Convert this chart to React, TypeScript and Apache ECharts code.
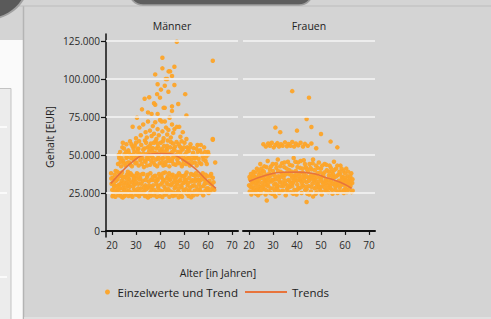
import React, { useEffect, useRef } from 'react';
import * as echarts from 'echarts';

// ---------- data (salaries in thousand EUR) ----------
const panelTitles = ['Männer', 'Frauen'];
const xTicks = [20, 30, 40, 50, 60, 70];
const yTicks = [0, 25, 50, 75, 100, 125];
const gridValues = [25, 50, 75, 100, 125];
const legendNames = ['Einzelwerte und Trend', 'Trends'];

const menLow: number[][] = [
  [19.6,38],[19.8,31],[20.1,27],[20.3,35],[20.5,24],[20.9,29],[21.2,37],[21.4,22.5],[21.7,33],[22.0,26],
  [22.2,39],[22.5,30],[22.8,23.5],[23.1,36],[23.3,28],[23.7,25],[24.0,33],[24.2,38.5],[24.5,22],[24.8,30],
  [25.1,27],[25.4,35.5],[25.6,24],[26.0,31.5],[26.2,37],[26.5,26],[26.9,23],[27.1,34],[27.4,29],[27.7,38],
  [28.0,25],[28.3,32],[28.5,22.5],[28.9,36],[29.2,27.5],[29.5,30.5],[29.8,24],[30.1,34.5],[30.4,38],[30.7,26],
  [31.0,31],[31.3,22.8],[31.7,35],[32.0,28],[32.4,24.5],[32.8,33],[33.1,37.5],[33.5,26.5],[33.9,30],[34.2,23],
  [34.6,35.5],[35.0,28.5],[35.3,32.5],[35.7,24.5],[36.0,38],[36.4,27],[36.8,33.5],[37.1,30],[37.5,23.5],[37.8,36],
  [38.2,25.5],[38.5,31],[38.9,34],[39.3,28],[39.6,37.5],[40.0,23],[40.3,30.5],[40.7,35],[41.0,26],[41.4,33],
  [41.8,29],[42.1,38.5],[42.5,24],[42.8,31.5],[43.2,36],[43.5,27.5],[43.9,22.5],[44.3,34],[44.6,30],[45.0,25],
  [45.3,37],[45.7,32],[46.1,28],[46.4,23.5],[46.8,35.5],[47.1,30.5],[47.5,26],[47.9,38],[48.2,33],[48.6,24],
  [49.0,29],[49.3,36],[49.7,31.5],[50.0,25.5],[50.4,34],[50.8,27.5],[51.1,38.5],[51.5,30],[51.9,23],[52.2,35],
  [52.6,28.5],[53.0,32.5],[53.3,25],[53.7,37],[54.1,30],[54.4,26.5],[54.8,34],[55.2,29],[55.5,24],[55.9,36.5],
  [56.3,31],[56.6,27],[57.0,33.5],[57.4,25.5],[57.8,38],[58.1,29.5],[58.5,34.5],[58.9,26.5],[59.3,31.5],[59.7,36],
  [60.1,28],[60.6,33],[61.0,26],[61.5,30.5],[62.0,35],
  [21,30],[23,30.2],[26.7,29.8],[29,33.5],[31.5,33.8],[34,33.5],[36.2,33.6],[39,33.4],[41.5,33.5],[44,33.6],
  [46.5,33.4],[48.5,33.5],[51,33.6],[53.5,33.4],[56,33.5],[58.7,33.5],[22,25.3],[25,25.5],[28,25.2],[33,25.4],
  [36,25.3],[38.8,25.4],[43,25.5],[45.5,25.3],[48,25.4],[52,25.5],[56.8,25.3],[60,25.4],[24,36.3],[27,36.2],
  [30,36.4],[38,36.3],[40.5,36.2],[44.8,36.5],[47,36.3],[50,36.2],[54.5,36.4],[57.5,36.3],[61,36.2],[35,22],
  [41,22.3],[47.8,22.1],[53,22.2]
];

const menLowExtra: number[][] = [
  [19.7,34.5],[20.2,22.8],[20.7,31.5],[21.1,26.5],[21.5,39.5],[21.9,29],[22.3,34],[22.6,27],[23.0,38],[23.5,31],
  [23.9,22.7],[24.3,28],[24.6,35],[25.0,32],[25.3,23],[25.8,28.5],[26.3,34],[26.6,39],[27.0,26.5],[27.3,31.5],
  [27.8,23.5],[28.2,37],[28.7,29.5],[29.1,34.5],[29.6,26],[30.0,32],[30.5,23.8],[30.9,28],[31.4,37],[31.9,25.5],
  [32.3,31],[32.7,37.5],[33.3,28.8],[33.7,23],[34.4,27.5],[34.9,37],[35.5,30],[36.1,23],[36.6,29],[37.0,35.5],
  [37.6,27],[38.0,33],[38.7,22.5],[39.1,29.5],[39.8,35.5],[40.2,26.5],[40.9,31.5],[41.3,38],[41.9,24],[42.3,27.5],
  [42.9,34.5],[43.4,30.5],[43.8,38],[44.4,26],[44.9,31],[45.4,23],[45.9,35],[46.3,29],[46.9,25],[47.3,32],
  [47.8,28],[48.4,36.5],[48.8,30],[49.2,22.5],[49.8,27],[50.2,32],[50.7,37],[51.2,24.5],[51.7,31.5],[52.3,26.5],
  [52.9,37.5],[53.5,29.5],[54.0,23.5],[54.6,32.5],[55.0,38],[55.7,27],[56.1,33.5],[56.9,29],[57.5,35],[58.0,23.5],
  [58.6,31],[59.0,37],[59.5,28],[60.3,25],[60.9,31],[61.3,37.5],[61.8,28],[62.3,32],[62.6,27]
];

const menMid: number[][] = [
  [22.5,44],[23,48],[23.4,52],[23.8,42.5],[24.3,55],[24.7,46],[25.2,50.5],[25.6,43],[26,57],[26.3,48.5],
  [26.8,53],[27.2,45],[27.5,59],[27.9,50],[28.3,42.5],[28.6,55.5],[29,47],[29.3,52],[29.7,44.5],[30,58],
  [30.4,49.5],[30.8,54],[31.1,43],[31.5,51],[31.8,46.5],[32.2,56.5],[32.6,48],[33,53.5],[33.3,42],[33.7,59.5],
  [34,45.5],[34.4,50.5],[34.8,55],[35.1,47.5],[35.5,52.5],[35.9,43.5],[36.2,57.5],[36.6,49],[37,54.5],[37.3,45],
  [37.7,51.5],[38.1,59],[38.4,47],[38.8,42.5],[39.2,55.5],[39.5,50],[39.9,44.5],[40.3,58],[40.6,52.5],[41,47.5],
  [41.4,43],[41.7,56],[42.1,50.5],[42.5,45.5],[42.8,53.5],[43.2,59.5],[43.6,48],[43.9,42.5],[44.3,55],[44.7,51],
  [45,46],[45.4,57.5],[45.8,49],[46.1,53],[46.5,43.5],[46.9,58.5],[47.2,47],[47.6,52],[48,44.5],[48.3,55.5],
  [48.7,49.5],[49.1,42.5],[49.4,53.5],[49.8,46.5],[50.2,58],[50.5,50.5],[50.9,44],[51.3,55],[51.6,48],[52,52.5],
  [52.4,43],[52.7,57],[53.1,47],[53.5,50],[54,54.5],[54.5,45],[55,49.5],[55.6,56.5],[56.1,47.5],[56.7,53],
  [57.2,44],[57.8,49],[58.4,55],[59,46],
  [24,47.8],[26,48.1],[28,47.9],[30,48.2],[32,47.8],[34.5,48],[37,48.2],[39,47.9],[41.2,48],[43,48.1],
  [45.2,47.8],[47.5,48.1],[50,47.9],[52.3,48],[54.8,48.2],[25,54.2],[29,54],[31,54.1],[33.5,54.3],[36,54],
  [38.5,54.2],[40.8,54.1],[42.8,54],[45.8,54.2],[48.9,54],[51.8,54.1],[55.2,54],
  [60,52],[60.2,50.5],[57,56.6],[63,45],[62,60],[59.5,44]
];

const menMidExtra: number[][] = [
  [22.8,50],[23.6,45.5],[24.5,58],[25,44.5],[25.9,52],[26.6,45],[27,51.5],[27.7,43.5],[28.1,57],[28.8,50],
  [29.5,56],[30.2,45],[30.6,52],[31.3,59],[31.9,50],[32.4,44],[33.1,51],[33.6,46],[34.2,58],[34.6,43],
  [35.3,50],[35.7,56],[36.4,46],[36.9,52],[37.5,58],[37.9,43.5],[38.6,51],[39,57.5],[39.7,47.5],[40,53],
  [40.9,45],[41.2,59],[41.9,52],[42.3,43.5],[43,56],[43.4,51],[44,46],[44.5,58.5],[45.1,52],[45.6,44],
  [46.3,55.5],[46.7,50],[47.4,45],[47.8,57],[48.5,51.5],[49,59],[49.6,44],[50,55],[50.7,47],[51.1,52],
  [51.9,45],[52.5,55],[53.3,44.5],[53.8,51.5],[54.3,48],[55.3,43],[55.8,52],[56.4,45],[57.5,51],[58.1,47],
  [58.8,52],[59.3,49]
];

const menHigh: number[][] = [
  [28.6,68.6],[31.4,68],[30,61],[30.4,74.5],[32,63],[33,70],[34,65],[34.5,61.5],[35,72],[35.8,66],
  [36.5,62.5],[37,69],[37.5,64],[38,71.5],[38.5,60.5],[39,67],[39.5,63],[40,73],[40.7,72],[41,65.5],
  [41.5,61],[42,72],[42.5,68],[43,63.5],[43.5,66.5],[44,74.5],[44.5,61.5],[45,70],[45.5,64.5],[46,67],
  [47,68.5],[48,68.5],[48.5,62],[49.5,65],[51,60.5],[36.5,77],[39,77],[35,78],[45,79],[42,81],
  [32.5,80],[47.6,83.5],[45,82],[41.5,81],[38,83],[37.5,84],[33.6,87],[35.5,88],[40,87.7],[38.8,90],
  [43.5,91.6],[50.5,90],[51,76],[40.4,93],[42,95.5],[46,96],[39,96.5],[42.4,100],[43,100],[45,102],
  [38,103],[43.6,105],[44.2,105],[41,107],[46,108],[41,114],[47,124.5],[62,112],[62,60.5]
];

const womenBand: number[][] = [
  [20,30],[20.3,26],[20.5,34],[20.8,37.5],[21,24],[21.3,28.5],[21.6,32],[21.9,39],[22.2,25.5],[22.4,35.5],
  [22.7,30],[23,27],[23.3,41],[23.5,33],[23.8,23.5],[24.1,37],[24.4,29],[24.7,44],[25,25],[25.2,35],
  [25.5,31.5],[25.8,39.5],[26.1,27.5],[26.4,42.5],[26.6,33.5],[26.9,24],[27.2,37],[27.4,20],[27.5,30],[27.8,46],
  [28.1,26],[28.4,35.5],[28.7,40.5],[29,28],[29.3,32.5],[29.6,24.5],[29.9,44],[30.2,37.5],[30.5,30.5],[30.8,26.5],
  [31,22.6],[31.1,34],[31.4,41.5],[31.7,28.5],[32,47],[32.3,36],[32.6,25],[32.9,32],[33.2,39],[33.5,29.5],
  [33.8,44.5],[34.1,26.5],[34.4,35],[34.7,42],[35,31],[35.3,23.5],[35.6,38],[35.9,27.5],[36.2,45.5],[36.5,33.5],
  [36.8,40],[37.1,29],[37.4,25.5],[37.7,36.5],[38,43],[38.3,31.5],[38.6,48],[38.9,27],[39.2,34.5],[39.5,39.5],
  [39.8,24],[40.1,30.5],[40.4,45],[40.7,36],[41,28],[41.3,41.5],[41.6,33],[41.9,25],[42.2,38.5],[42.5,30],
  [42.8,46.5],[43.1,35],[43.4,27],[43.7,42],[44,19],[44,32],[44.3,24.5],[44.6,39],[44.9,29.5],[45.2,44],
  [45.5,35.5],[45.8,26],[46.1,40.5],[46.4,31],[46.7,22.6],[46.7,47],[47,37],[47.3,28],[47.6,33.5],[47.9,43],
  [48.2,25.5],[48.5,38],[48.8,30.5],[49.1,45],[49.4,27.5],[49.7,35],[50,41],[50.3,24],[50.6,32],[50.9,37.5],
  [51.2,29],[51.5,44],[51.8,26.5],[52.1,34],[52.4,40],[52.7,30],[53,25.5],[53.3,36.5],[53.6,43],[53.9,28],
  [54.2,33],[54.5,39],[54.8,24.5],[55.1,31],[55.4,45.5],[55.7,35.5],[56,27],[56.3,41],[56.6,30],[56.9,25],
  [57.2,37],[57.5,33],[57.8,28.5],[58.1,43],[58.4,26],[58.7,35],[59,30.5],[59.3,39.5],[59.6,27],[59.9,33.5],
  [60.2,29],[60.5,41],[60.8,25.5],[61.1,36],[61.4,31],[61.7,27.5],[62,34],[62.3,29.5],[62.6,38],[63,31.5],
  [63.2,26.5],
  [21,35],[23,31.5],[25,38],[27,33],[29,36.5],[31,31],[33,35.5],[35,37],[37,32.5],[39,36.5],
  [41,34],[43,37.5],[45,33],[47,35],[49,32.5],[51,36],[53,33.5],[55,37.5],[57,31.5],[59,35.5],
  [61,33],[24,31],[26,36],[28,33.5],[30,28],[32,29.5],[34,32],[36,30],[38,35],[40,33],
  [42,31.5],[44,36],[46,34.5],[48,31],[50,29],[52,31.5],[54,30],[56,32],[58,32.5],[60,35],
  [22,28],[26,29],[30,33.5],[34,38],[38,29.5],[42,35.5],[46,37],[50,34],[54,36.5],[58,37.5],
  [62,31.5],[24,27],[28,29.5],[32,27],[36,26],[40,27],[44,27.5],[48,28.5],[52,27],[56,29],[60,31.5]
];

const womenBandExtra: number[][] = [
  [20.2,35.5],[20.6,29],[21.1,31],[21.5,26],[21.8,36.5],[22.1,33],[22.5,38.5],[22.9,24.5],[23.2,35],[23.6,28],
  [24,39.5],[24.3,33.5],[24.8,26.5],[25.1,41],[25.4,29],[25.9,34.5],[26.2,39],[26.7,31],[27,27],[27.3,42],
  [27.7,35],[28,31.5],[28.5,38],[28.9,25],[29.2,42.5],[29.7,33.5],[30,39.5],[30.4,24],[30.9,36],[31.3,44],
  [31.6,30],[32.1,39.5],[32.5,33.5],[33,42.5],[33.4,26],[33.9,37],[34.3,29.5],[34.8,45],[35.2,33],[35.7,41],
  [36.1,28.5],[36.6,37.5],[37,43.5],[37.5,31],[37.9,39],[38.4,24.5],[38.8,33],[39.3,45.5],[39.7,37],[40.2,42],
  [40.6,28.5],[41.1,38],[41.5,46],[42,29],[42.4,41],[42.9,33],[43.3,44],[43.8,29],[44.2,40.5],[44.7,35],
  [45.1,24],[45.6,41.5],[46,29],[46.5,44.5],[46.9,33],[47.4,40],[47.8,24.5],[48.3,35.5],[48.7,41.5],[49.2,29],
  [49.6,38.5],[50.1,26],[50.5,43],[51,31],[51.4,38.5],[51.9,33],[52.3,43.5],[52.8,28],[53.2,39],[53.7,31.5],
  [54.1,41.5],[54.6,27],[55,35],[55.5,40],[55.9,30],[56.4,36],[56.8,43],[57.3,26],[57.7,39],[58.2,30],
  [58.6,41],[59.1,33],[59.5,25],[60,38],[60.4,27.5],[60.9,33],[61.3,39],[61.8,30],[62.2,36],[62.7,25.5],
  [63.1,34]
];

const womenUpper: number[][] = [
  [26,57],[27,55.5],[28,57.5],[28.7,56],[29.5,58],[30.3,55],[31,56.5],[31.8,57.8],[32.5,55.5],[33.3,57],
  [34,56],[35,58.3],[35.8,55.7],[36.5,57.2],[37.3,56],[38,58.5],[38.8,55.5],[39.5,57.5],[40.5,56.3],[41.5,58],
  [42.5,55.5],[43.3,57.3],[44.5,56],[46,57.5],[48,54.4],[56.8,55],[54,58.8],[50,63.8],[46,68.4],[40,66],
  [33,65],[31,68],[44,73.7],[38,92],[45,87.7]
];

const menTrend: number[][] = [
  [19.5,31.3],[24.7,40],[28.9,46],[33,49.8],[39.3,51],[44.2,50.7],[49.7,46.7],[55.3,40],[59.4,33.5],[63.3,28]
];
const womenTrend: number[][] = [
  [20,32.5],[27.4,36.8],[34.3,38.6],[40,38.7],[46,38],[51,35.7],[58,32],[62.8,28]
];

const FONT = "'Open Sans', sans-serif";
const DOT = '#fda428';
const TREND = '#e8743b';

export default function App() {
  const ref = useRef<HTMLDivElement>(null);
  useEffect(() => {
    const chart = echarts.init(ref.current!, null, { renderer: 'svg' });
    const gridLeft = [106, 243];
    const xAxes = gridLeft.map((_, i) => ({
      type: 'value', gridIndex: i, min: 17.5, max: 72.5,
      axisLine: { show: true, lineStyle: { color: '#111', width: 2 } },
      axisTick: { show: true, customValues: xTicks, length: 4, lineStyle: { color: '#111', width: 1.2 } },
      axisLabel: { customValues: xTicks, fontSize: 10, color: '#2a2a2a', margin: 3, fontFamily: FONT },
      splitLine: { show: false },
    }));
    const yAxes = gridLeft.map((_, i) => ({
      type: 'value', gridIndex: i, min: -4, max: 129.6,
      axisLine: { show: i === 0, lineStyle: { color: '#111', width: 1.5 } },
      axisTick: { show: i === 0, customValues: yTicks, length: 5, lineStyle: { color: '#111', width: 1.2 } },
      axisLabel: {
        show: i === 0, customValues: yTicks, fontSize: 10, color: '#2a2a2a', margin: 6, fontFamily: FONT,
        formatter: (v: number) => (v === 0 ? '0' : `${v}.000`),
      },
      splitLine: { show: false },
    }));
    const scatterData = [
      [...menLow, ...menLowExtra, ...menMid, ...menMidExtra, ...menHigh],
      [...womenBand, ...womenBandExtra, ...womenUpper],
    ];
    const trendData = [menTrend, womenTrend];
    const series: any[] = [];
    gridLeft.forEach((_, i) => {
      series.push({
        type: 'line', xAxisIndex: i, yAxisIndex: i, data: [], z: 1, silent: true,
        markLine: {
          silent: true, symbol: 'none', animation: false,
          label: { show: false },
          lineStyle: { color: '#f6f6f6', width: 1.6, type: 'solid' },
          data: gridValues.map((v) => ({ yAxis: v })),
        },
      });
    });
    gridLeft.forEach((_, i) => {
      series.push({
        name: legendNames[0], type: 'scatter', xAxisIndex: i, yAxisIndex: i, z: 2,
        symbolSize: 4.5, itemStyle: { color: DOT, opacity: 0.95 }, data: scatterData[i],
      });
    });
    gridLeft.forEach((_, i) => {
      series.push({
        name: legendNames[1], type: 'line', xAxisIndex: i, yAxisIndex: i, z: 3,
        smooth: true, symbol: 'none', showSymbol: false,
        lineStyle: { color: TREND, width: 1.6 }, itemStyle: { color: TREND }, data: trendData[i],
      });
    });

    const txt = (text: string, x: number, y: number, size: number, extra: any = {}) => ({
      type: 'text', x, y, z: 10, ...extra,
      style: { text, fill: '#222', font: `${size}px ${FONT}`, textAlign: 'center', textVerticalAlign: 'middle' },
    });

    chart.setOption({
      animation: false,
      backgroundColor: '#d4d4d4',
      textStyle: { fontFamily: FONT },
      grid: gridLeft.map((l) => ({ left: l, top: 34, width: 132, height: 203 })),
      xAxis: xAxes,
      yAxis: yAxes,
      legend: [
        {
          data: [legendNames[0]], left: 105, top: 286, padding: 0, icon: 'circle',
          itemWidth: 10, itemHeight: 5, selectedMode: false,
          textStyle: { fontSize: 11.5, color: '#222', fontFamily: FONT },
        },
        {
          data: [{ name: legendNames[1], icon: 'rect', itemStyle: { color: TREND } }],
          left: 245, top: 286, padding: 0,
          itemWidth: 42, itemHeight: 2, selectedMode: false,
          textStyle: { fontSize: 11.5, color: '#222', fontFamily: FONT },
        },
      ],
      graphic: [
        { type: 'rect', z: 0, shape: { x: 0, y: 40, width: 23, height: 279 }, style: { fill: '#fafafa' } },
        { type: 'rect', z: 0, shape: { x: -1, y: 88.5, width: 12, height: 232 }, style: { fill: '#ececec', stroke: '#c3c3c3', lineWidth: 1 } },
        ...[127, 193, 277].map((y) => ({ type: 'line', z: 0, shape: { x1: 0, y1: y, x2: 7, y2: y }, style: { stroke: '#ffffff', lineWidth: 1.5 } })),
        { type: 'line', z: 0, shape: { x1: 23.5, y1: 6, x2: 23.5, y2: 319 }, style: { stroke: '#b4b4b4', lineWidth: 1.5 } },
        { type: 'line', z: 0, shape: { x1: 0, y1: 6, x2: 491, y2: 6 }, style: { stroke: '#bcbcbc', lineWidth: 1.2 } },
        { type: 'rect', z: 0, shape: { x: 24, y: 317, width: 467, height: 2 }, style: { fill: '#e0e0e0' } },
        { type: 'circle', z: 1, shape: { cx: -12, cy: -22, r: 41 }, style: { fill: '#5a5a5a', stroke: '#a0a0a0', lineWidth: 2 } },
        { type: 'rect', z: 1, shape: { x: 129, y: -20, width: 184, height: 25, r: [0, 0, 14, 14] }, style: { fill: '#5e5e5e', stroke: '#9c9c9c', lineWidth: 1.5 } },
        txt(panelTitles[0], 172, 26, 10.5),
        txt(panelTitles[1], 309, 26, 10.5),
        txt('Gehalt [EUR]', 50, 137, 10.5, { rotation: Math.PI / 2 }),
        txt('Alter [in Jahren]', 218, 273, 10.5),
      ],
      series,
    });
    return () => chart.dispose();
  }, []);
  return <div ref={ref} style={{ position: 'absolute', left: 0, top: 0, width: 491, height: 319 }} />;
}
